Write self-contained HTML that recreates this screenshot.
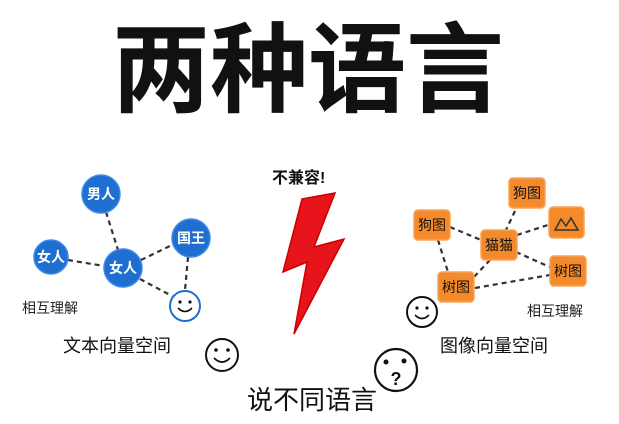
<!DOCTYPE html>
<html><head><meta charset="utf-8"><style>
html,body{margin:0;padding:0;background:#fff;}
svg{display:block}
text{font-family:"Liberation Sans","Noto Sans CJK SC",sans-serif;}
</style></head><body>
<svg width="619" height="424" viewBox="0 0 619 424" xmlns="http://www.w3.org/2000/svg">
<rect width="619" height="424" fill="#fff"/>
<text x="112" y="104" font-size="98" font-weight="bold" fill="#111" textLength="392" lengthAdjust="spacing">两种语言</text>

<g stroke="#333" stroke-width="2.2" stroke-dasharray="5,4" fill="none">
<line x1="106" y1="212" x2="118" y2="250"/>
<line x1="68" y1="260" x2="104" y2="266"/>
<line x1="141" y1="260" x2="172" y2="245"/>
<line x1="188" y1="257" x2="185" y2="290"/>
<line x1="140" y1="279" x2="172" y2="296"/>
</g>
<g fill="#1e6fd0" stroke="#3a8ae8" stroke-width="1.5">
<circle cx="101" cy="194" r="19"/>
<circle cx="51" cy="257" r="17"/>
<circle cx="123" cy="268" r="19"/>
<circle cx="191" cy="238" r="19"/>
</g>
<g fill="#fff" font-size="14" font-weight="bold" text-anchor="middle">
<text x="101" y="199">男人</text>
<text x="51" y="262">女人</text>
<text x="123" y="273">女人</text>
<text x="191" y="243">国王</text>
</g>
<circle cx="185" cy="306" r="15" fill="#fff" stroke="#1e6fd0" stroke-width="2"/>
<circle cx="180" cy="302" r="1.6" fill="#111"/><circle cx="190" cy="302" r="1.6" fill="#111"/>
<path d="M178 308 Q185 315 192 308" stroke="#111" stroke-width="1.6" fill="none"/>
<text x="22" y="313" font-size="14" fill="#222">相互理解</text>
<text x="63" y="352" font-size="18" fill="#111">文本向量空间</text>

<text x="272" y="183" font-size="16" font-weight="bold" fill="#111">不兼容!</text>
<polygon points="302,199 335,193 314,247 344,239 294,334 307,262 283,272" fill="#e8141b" stroke="#c00" stroke-width="1.5"/>
<circle cx="222" cy="355" r="16" fill="#fff" stroke="#111" stroke-width="2"/>
<circle cx="216" cy="350" r="1.8" fill="#111"/><circle cx="228" cy="350" r="1.8" fill="#111"/>
<path d="M214 358 Q222 366 230 358" stroke="#111" stroke-width="1.8" fill="none"/>
<text x="247" y="409" font-size="26" fill="#111">说不同语言</text>
<circle cx="396" cy="370" r="21" fill="#fff" stroke="#111" stroke-width="2.2"/>
<circle cx="386" cy="362" r="2.5" fill="#111"/><circle cx="404" cy="361" r="2.5" fill="#111"/>
<text x="396" y="385" font-size="18" font-weight="bold" text-anchor="middle" fill="#111">?</text>

<g stroke="#333" stroke-width="2.2" stroke-dasharray="5,4" fill="none">
<line x1="450" y1="227" x2="481" y2="240"/>
<line x1="438" y1="240" x2="448" y2="272"/>
<line x1="515" y1="211" x2="506" y2="230"/>
<line x1="517" y1="235" x2="548" y2="225"/>
<line x1="516" y1="252" x2="552" y2="268"/>
<line x1="490" y1="260" x2="473" y2="278"/>
<line x1="475" y1="288" x2="550" y2="275"/>
</g>
<g fill="#f58a2a" stroke="#f7a45a" stroke-width="1.5">
<rect x="414" y="210" width="36" height="30" rx="4"/>
<rect x="509" y="178" width="36" height="30" rx="4"/>
<rect x="481" y="230" width="36" height="30" rx="4"/>
<rect x="549" y="207" width="35" height="31" rx="4"/>
<rect x="550" y="256" width="36" height="30" rx="4"/>
<rect x="438" y="272" width="36" height="30" rx="4"/>
</g>
<g fill="#111" font-size="14" text-anchor="middle">
<text x="432" y="230">狗图</text>
<text x="527" y="198">狗图</text>
<text x="499" y="250">猫猫</text>
<text x="568" y="276">树图</text>
<text x="456" y="292">树图</text>
</g>
<path d="M555 230 L561 219 L566 226 L571 218 L578 230 Z" fill="none" stroke="#333" stroke-width="1.5"/>
<circle cx="422" cy="312" r="15" fill="#fff" stroke="#111" stroke-width="2"/>
<circle cx="417" cy="308" r="1.6" fill="#111"/><circle cx="427" cy="308" r="1.6" fill="#111"/>
<path d="M415 315 Q422 322 429 315" stroke="#111" stroke-width="1.6" fill="none"/>
<text x="527" y="316" font-size="14" fill="#222">相互理解</text>
<text x="440" y="352" font-size="18" fill="#111">图像向量空间</text>
</svg>
</body></html>
